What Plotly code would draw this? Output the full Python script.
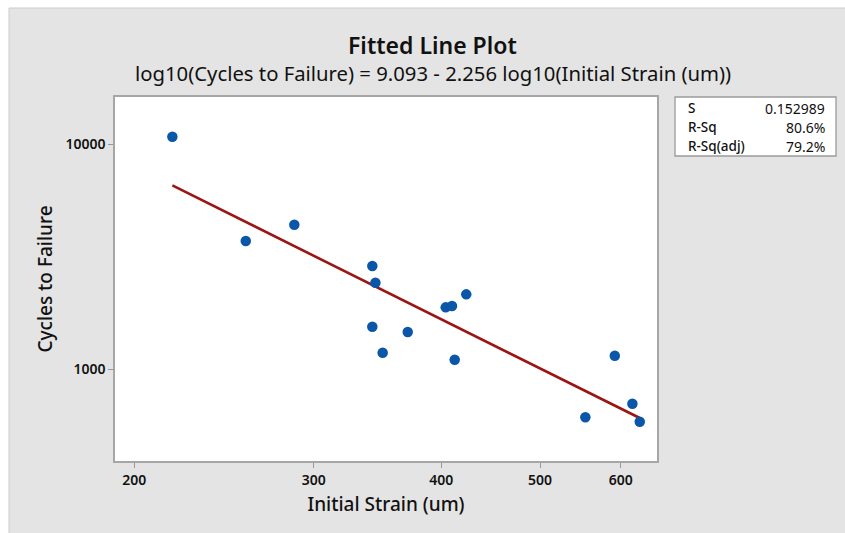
import numpy as np
import plotly.graph_objects as go

# ---- data ----
strain = [218.0, 257.3, 287.1, 342.4, 344.8, 342.4, 350.5, 370.9, 404.1, 409.9,
          423.3, 412.4, 553.9, 592.0, 616.0, 626.3]
cycles = [10810, 3717, 4392, 2879, 2426, 1547, 1185, 1465, 1886, 1911,
          2154, 1103, 612, 1149, 703, 585]

fit_intercept = 9.093
fit_slope = -2.256

x_ticks = [200, 300, 400, 500, 600]
y_ticks = [1000, 10000]

stat_labels = ["S", "R-Sq", "R-Sq(adj)"]
stat_values = ["0.152989", "80.6%", "79.2%"]

title_text = "Fitted Line Plot"
subtitle_text = "log10(Cycles to Failure) = 9.093 - 2.256 log10(Initial Strain (um))"

# ---- geometry (pixels) ----
W, H = 845, 533
PL, PR, PT, PB = 115, 657, 97, 461
FONT = "Noto Sans"


def fx(px):
    return (px - PL) / (PR - PL)


def fy(py):
    return (PB - py) / (PB - PT)


# fitted line from the regression coefficients
lx = np.logspace(np.log10(min(strain)), np.log10(max(strain)), 12)
ly = 10 ** (fit_intercept + fit_slope * np.log10(lx))

fig = go.Figure()
fig.add_trace(go.Scatter(x=lx, y=ly, mode="lines",
                         line=dict(color="#9c1414", width=2.6),
                         showlegend=False, hoverinfo="skip"))
fig.add_trace(go.Scatter(x=strain, y=cycles, mode="markers",
                         marker=dict(color="#0a56a8", size=10.5),
                         showlegend=False))

shapes = [
    # gray outer panel
    dict(type="rect", xref="paper", yref="paper", layer="below",
         x0=fx(9), x1=fx(W + 2), y0=fy(H + 2), y1=fy(8),
         fillcolor="#e4e4e4", line=dict(color="#cccccc", width=1)),
    # white plot area
    dict(type="rect", xref="paper", yref="paper", layer="below",
         x0=0, x1=1, y0=0, y1=1,
         fillcolor="white", line=dict(width=0)),
    # stats box
    dict(type="rect", xref="paper", yref="paper",
         x0=fx(675), x1=fx(836), y0=fy(156), y1=fy(97),
         fillcolor="white", line=dict(color="#9a9a9a", width=1.3)),
]

annotations = [
    dict(text=title_text, xref="paper", yref="paper", x=fx(432.5), y=fy(45),
         showarrow=False, xanchor="center", yanchor="middle",
         font=dict(family=FONT, size=23, color="#111111", weight=600)),
    dict(text=subtitle_text, xref="paper", yref="paper", x=fx(432.5), y=fy(73),
         showarrow=False, xanchor="center", yanchor="middle",
         font=dict(family=FONT, size=20.3, color="#111111")),
]
row_y = [108, 127, 146]
for lab, val, ry in zip(stat_labels, stat_values, row_y):
    annotations.append(dict(text=lab, xref="paper", yref="paper", x=fx(686), y=fy(ry),
                            showarrow=False, xanchor="left", yanchor="middle",
                            font=dict(family=FONT, size=13.5, color="#111111", weight=500)))
    annotations.append(dict(text=val, xref="paper", yref="paper", x=fx(827), y=fy(ry),
                            showarrow=False, xanchor="right", yanchor="middle",
                            font=dict(family=FONT, size=14, color="#111111")))

fig.update_layout(
    width=W, height=H,
    margin=dict(l=PL, r=W - PR, t=PT, b=H - PB, pad=0),
    paper_bgcolor="white", plot_bgcolor="rgba(0,0,0,0)",
    shapes=shapes, annotations=annotations,
    font=dict(family=FONT, color="#111111"),
)
fig.update_xaxes(type="log", range=[2.2822, 2.8137],
                 tickvals=x_ticks, ticktext=[str(v) for v in x_ticks],
                 ticks="outside", ticklen=5, tickcolor="#999999",
                 showgrid=False, zeroline=False,
                 showline=True, linecolor="#a6a6a6", linewidth=1.5, mirror=True,
                 tickfont=dict(family=FONT, size=14, color="#111111", weight=600),
                 title=dict(text="Initial Strain (um)", standoff=10,
                            font=dict(family=FONT, size=19, color="#111111", weight=500)))
fig.update_yaxes(type="log", range=[2.5924, 4.2107],
                 tickvals=y_ticks, ticktext=[str(v) for v in y_ticks],
                 ticks="outside", ticklen=5, tickcolor="#999999",
                 showgrid=False, zeroline=False,
                 showline=True, linecolor="#a6a6a6", linewidth=1.5, mirror=True,
                 tickfont=dict(family=FONT, size=14, color="#111111", weight=600),
                 title=dict(text="Cycles to Failure", standoff=8,
                            font=dict(family=FONT, size=19, color="#111111", weight=500)))

fig.write_html("out.html")
